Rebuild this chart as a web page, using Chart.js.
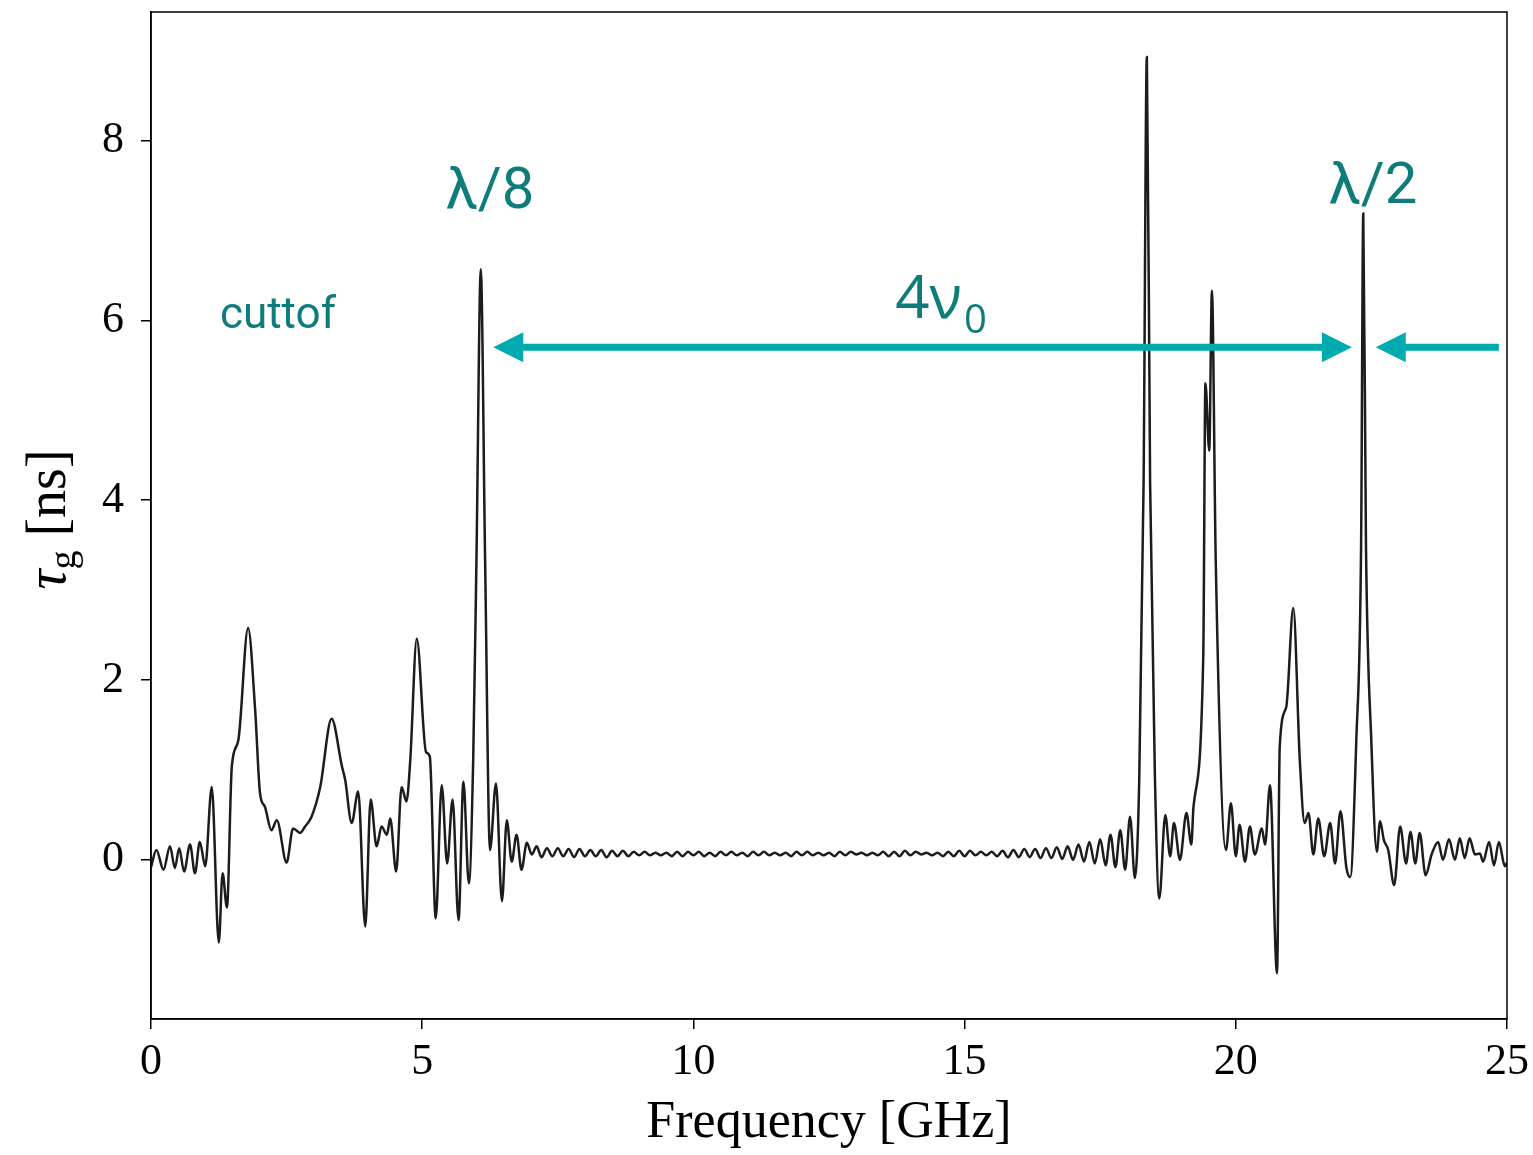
<!DOCTYPE html>
<html>
<head>
<meta charset="utf-8">
<title>Group delay vs frequency</title>
<script src="https://cdn.jsdelivr.net/npm/chart.js@4/dist/chart.umd.min.js"></script>
<style>
  html, body { margin: 0; padding: 0; background: #fff; }
  #wrap { width: 1533px; height: 1155px; position: relative; }
</style>
</head>
<body>
<div id="wrap"><canvas id="chart"></canvas></div>
<script>
'use strict'

/* global Chart */

// frequency samples [GHz]
const freqGHz = [
  0.00, 0.10, 0.23, 0.35, 0.44, 0.52, 0.61, 0.72, 0.81, 0.90,
  1.00, 1.12, 1.25, 1.32, 1.40, 1.49, 1.61, 1.79, 1.92, 2.01,
  2.10, 2.22, 2.32, 2.50, 2.62, 2.75, 2.84, 2.96, 3.12, 3.33,
  3.52, 3.58, 3.70, 3.82, 3.95, 4.05, 4.16, 4.25, 4.35, 4.41,
  4.52, 4.62, 4.71, 4.78, 4.90, 5.07, 5.14, 5.25, 5.36, 5.46,
  5.56, 5.67, 5.76, 5.86, 5.94, 6.00, 6.08, 6.16, 6.25, 6.36,
  6.47, 6.56, 6.65, 6.74, 6.83, 6.93, 7.02, 7.11,
  7.2, 7.3, 7.4, 7.5, 7.6, 7.7, 7.8, 7.9, 8.0, 8.1,
  8.2, 8.3, 8.4, 8.5, 8.6, 8.7, 8.8, 8.9, 9.0, 9.1,
  9.2, 9.3, 9.4, 9.5, 9.6, 9.7, 9.8, 9.9, 10.0, 10.1,
  10.2, 10.3, 10.4, 10.5, 10.6, 10.7, 10.8, 10.9, 11.0, 11.1,
  11.2, 11.3, 11.4, 11.5, 11.6, 11.7, 11.8, 11.9, 12.0, 12.1,
  12.2, 12.3, 12.4, 12.5, 12.6, 12.7, 12.8, 12.9, 13.0, 13.1,
  13.2, 13.3, 13.4, 13.5, 13.6, 13.7, 13.8, 13.9, 14.0, 14.1,
  14.2, 14.3, 14.4, 14.5, 14.6, 14.7, 14.8, 14.9, 15.0, 15.1,
  15.2, 15.3, 15.4, 15.5, 15.6, 15.7, 15.8, 15.9, 16.0, 16.1,
  16.2, 16.3, 16.4, 16.5, 16.6, 16.7, 16.8, 16.9, 17.0, 17.1,
  17.2, 17.3, 17.4, 17.5, 17.6, 17.69, 17.78, 17.87, 17.96, 18.05,
  18.14, 18.22, 18.30, 18.36, 18.42, 18.51, 18.59, 18.70, 18.79, 18.86,
  18.97, 19.09, 19.18, 19.22, 19.40, 19.44, 19.51, 19.56, 19.63, 19.82,
  19.91, 20.00, 20.07, 20.17, 20.26, 20.35, 20.48, 20.54, 20.63, 20.76,
  20.81, 20.93, 21.06, 21.18, 21.27, 21.34, 21.43, 21.52, 21.63, 21.74,
  21.83, 21.93, 22.04, 22.11, 22.22, 22.31, 22.35, 22.40, 22.50, 22.60,
  22.66, 22.73, 22.81, 22.92, 23.03, 23.14, 23.22, 23.31, 23.39, 23.50,
  23.61, 23.73, 23.82, 23.93, 24.04, 24.13, 24.22, 24.31, 24.41, 24.50,
  24.56, 24.67, 24.76, 24.85, 24.96, 25.00
]

// group delay tau_g [ns] at each frequency above
const tauNs = [
  -0.08, 0.11, -0.11, 0.15, -0.09, 0.13, -0.13, 0.17, -0.15, 0.20,
  -0.07, 0.81, -0.92, -0.15, -0.53, 1.04, 1.33, 2.58, 1.67, 0.74,
  0.59, 0.33, 0.44, -0.03, 0.35, 0.30, 0.37, 0.48, 0.81, 1.57,
  1.04, 0.89, 0.41, 0.76, -0.74, 0.67, 0.15, 0.37, 0.28, 0.46,
  -0.13, 0.81, 0.65, 1.11, 2.46, 1.20, 1.15, -0.65, 0.83, -0.04,
  0.67, -0.67, 0.87, -0.26, 1.11, 3.33, 6.57, 3.33, 0.11, 0.85,
  -0.46, 0.44, -0.02, 0.28, -0.11, 0.19, 0.06, 0.15,
  0.03, 0.13, 0.04, 0.13, 0.04, 0.12, 0.03, 0.12, 0.04, 0.11,
  0.04, 0.11, 0.03, 0.10, 0.04, 0.10, 0.04, 0.09, 0.05, 0.09,
  0.05, 0.08, 0.05, 0.08, 0.04, 0.09, 0.04, 0.09, 0.05, 0.09,
  0.04, 0.08, 0.04, 0.09, 0.05, 0.09, 0.05, 0.08, 0.04, 0.09,
  0.05, 0.09, 0.05, 0.08, 0.05, 0.08, 0.04, 0.09, 0.05, 0.09,
  0.05, 0.08, 0.05, 0.08, 0.04, 0.09, 0.05, 0.09, 0.06, 0.08,
  0.05, 0.08, 0.05, 0.09, 0.04, 0.09, 0.04, 0.10, 0.05, 0.09,
  0.06, 0.08, 0.05, 0.08, 0.04, 0.09, 0.04, 0.10, 0.04, 0.10,
  0.05, 0.09, 0.05, 0.09, 0.04, 0.10, 0.03, 0.11, 0.03, 0.12,
  0.03, 0.12, 0.02, 0.13, 0.02, 0.14, 0.01, 0.15, 0.00, 0.17,
  -0.02, 0.20, -0.04, 0.23, -0.06, 0.28, -0.08, 0.33, -0.11, 0.48,
  -0.20, 0.90, 4.20, 8.93, 4.20, 0.89, -0.43, 0.50, 0.04, 0.41,
  0.00, 0.52, 0.17, 0.59, 2.26, 5.30, 4.55, 6.33, 3.33, 0.11,
  0.63, 0.04, 0.39, -0.02, 0.37, 0.06, 0.35, 0.17, 0.83, -1.26,
  1.26, 1.70, 2.80, 1.11, 0.41, 0.52, 0.06, 0.46, 0.04, 0.41,
  -0.04, 0.54, -0.09, -0.19, 1.30, 3.50, 7.19, 3.50, 1.30, 0.09,
  0.43, 0.22, 0.11, -0.28, 0.37, -0.04, 0.31, -0.04, 0.30, -0.17,
  0.06, 0.20, 0.00, 0.23, 0.00, 0.24, 0.02, 0.24, 0.06, 0.07,
  -0.02, 0.20, -0.06, 0.20, -0.07, -0.03
]

const xTicks = [0, 5, 10, 15, 20, 25]
const yTicks = [0, 2, 4, 6, 8]
const xRange = [0, 25]
const yRange = [-1.77, 9.43]

const points = freqGHz.map((f, i) => ({ x: f, y: tauNs[i] }))

const TEXT_TEAL = '#0e7c7b'
const ARROW_TEAL = '#00abb0'

function arrowHead (ctx, tipX, y, dir) {
  // dir -1 points left, +1 points right
  ctx.beginPath()
  ctx.moveTo(tipX, y)
  ctx.lineTo(tipX - dir * 30, y - 15)
  ctx.lineTo(tipX - dir * 30, y + 15)
  ctx.closePath()
  ctx.fill()
}

const overlay = {
  id: 'overlay',
  afterDraw (chart) {
    const { ctx, chartArea } = chart
    const xs = chart.scales.x
    const ys = chart.scales.y
    const px = v => xs.getPixelForValue(v)
    const py = v => ys.getPixelForValue(v)

    ctx.save()

    // closed frame
    ctx.strokeStyle = '#000'
    ctx.lineWidth = 1.5
    ctx.strokeRect(chartArea.left, chartArea.top, chartArea.width, chartArea.height)

    // 4nu0 double arrow and the lambda/2 arrow
    const ay = py(5.70)
    ctx.fillStyle = ARROW_TEAL
    ctx.strokeStyle = ARROW_TEAL
    ctx.lineWidth = 7
    ctx.beginPath()
    ctx.moveTo(px(6.31) + 28, ay)
    ctx.lineTo(px(22.14) - 28, ay)
    ctx.stroke()
    arrowHead(ctx, px(6.31), ay, -1)
    arrowHead(ctx, px(22.14), ay, 1)

    ctx.beginPath()
    ctx.moveTo(px(22.58) + 28, ay)
    ctx.lineTo(px(24.85), ay)
    ctx.stroke()
    arrowHead(ctx, px(22.58), ay, -1)

    // labels
    ctx.fillStyle = TEXT_TEAL
    ctx.textBaseline = 'alphabetic'
    ctx.textAlign = 'left'
    ctx.font = '44px Roboto'
    ctx.fillText('cuttof', px(1.27), py(5.92))

    ctx.textAlign = 'center'
    ctx.font = '58px Roboto'
    ctx.fillText('λ/8', px(6.25), py(7.25))
    ctx.fillText('λ/2', px(22.53), py(7.31))

    ctx.textAlign = 'left'
    ctx.font = '60px "Open Sans"'
    const nuX = px(13.72)
    ctx.fillText('4ν', nuX, py(6.03))
    const nuW = ctx.measureText('4ν').width
    ctx.font = '40px "Open Sans"'
    ctx.fillText('0', nuX + nuW + 2, py(5.86))

    // y axis title: tau_g [ns]
    ctx.fillStyle = '#000'
    ctx.translate(65, (chartArea.top + chartArea.bottom) / 2 + 4)
    ctx.rotate(-Math.PI / 2)
    const fTau = 'italic 56px "Liberation Serif"'
    const fSub = '38px "Liberation Serif"'
    const fMain = '56px "Liberation Serif"'
    ctx.font = fTau
    const wTau = ctx.measureText('τ').width
    ctx.font = fSub
    const wSub = ctx.measureText('g').width
    ctx.font = fMain
    const wRest = ctx.measureText(' [ns]').width
    let cx = -(wTau + wSub + wRest) / 2
    ctx.textAlign = 'left'
    ctx.font = fTau
    ctx.fillText('τ', cx, 0)
    cx += wTau
    ctx.font = fSub
    ctx.fillText('g', cx, 10)
    cx += wSub
    ctx.font = fMain
    ctx.fillText(' [ns]', cx, 0)

    ctx.restore()
  }
}

const tickFont = { family: '"Liberation Serif"', size: 44 }

const chart = new Chart(document.getElementById('chart'), {
  type: 'line',
  data: {
    datasets: [{
      label: 'tau_g',
      data: points,
      borderColor: '#1c1c1c',
      borderWidth: 2.5,
      pointRadius: 0,
      cubicInterpolationMode: 'monotone',
      fill: false
    }]
  },
  options: {
    responsive: true,
    maintainAspectRatio: false,
    animation: false,
    devicePixelRatio: 1,
    layout: {
      padding: { left: 0, right: 26, top: 12, bottom: 0 }
    },
    plugins: {
      legend: { display: false },
      tooltip: { enabled: false }
    },
    scales: {
      x: {
        type: 'linear',
        min: xRange[0],
        max: xRange[1],
        afterBuildTicks: (scale) => { scale.ticks = xTicks.map(v => ({ value: v })) },
        afterFit: (scale) => {
          scale.height = 136
          scale.paddingLeft = 0
          scale.paddingRight = 0
        },
        ticks: {
          font: tickFont,
          color: '#000',
          padding: 7,
          maxRotation: 0,
          autoSkip: false
        },
        grid: {
          display: true,
          drawOnChartArea: false,
          drawTicks: true,
          tickLength: 10,
          color: '#000',
          lineWidth: 1.5
        },
        border: { display: true, color: '#000', width: 1.5 },
        title: {
          display: true,
          text: 'Frequency [GHz]',
          color: '#000',
          font: { family: '"Liberation Serif"', size: 52 },
          padding: { top: 0, bottom: 0 }
        }
      },
      y: {
        type: 'linear',
        min: yRange[0],
        max: yRange[1],
        afterBuildTicks: (scale) => { scale.ticks = yTicks.map(v => ({ value: v })) },
        afterFit: (scale) => {
          scale.width = 151
          scale.paddingTop = 0
          scale.paddingBottom = 0
        },
        ticks: {
          font: tickFont,
          color: '#000',
          padding: 17
        },
        grid: {
          display: true,
          drawOnChartArea: false,
          drawTicks: true,
          tickLength: 10,
          color: '#000',
          lineWidth: 1.5
        },
        border: { display: true, color: '#000', width: 1.5 }
      }
    }
  },
  plugins: [overlay]
})
</script>
</body>
</html>
